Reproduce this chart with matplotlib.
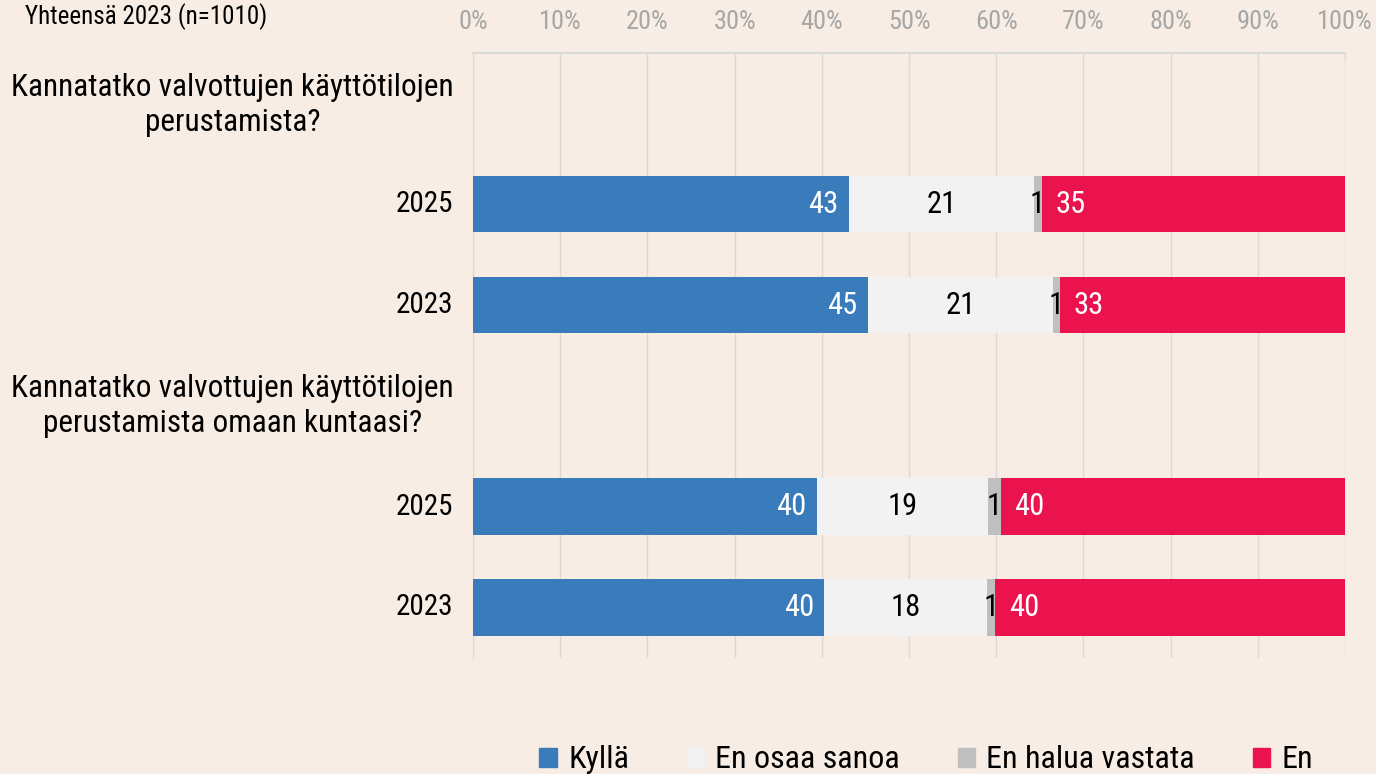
import numpy as np
import matplotlib
matplotlib.use('Agg')
import matplotlib.pyplot as plt
from matplotlib.patches import Patch
from matplotlib import font_manager

# pick a narrow font if one is installed
names = {f.name for f in font_manager.fontManager.ttflist}
narrow = {f.name for f in font_manager.fontManager.ttflist
          if f.stretch in ('condensed', 'semi-condensed', 'extra-condensed', 'ultra-condensed')
          or (isinstance(f.stretch, int) and f.stretch < 500)}
font = 'DejaVu Sans'
stretch = 'normal'
for cand in ['Roboto Condensed', 'Liberation Sans Narrow', 'Open Sans Condensed', 'Noto Sans Condensed', 'Arial Narrow']:
    if cand in names:
        font = cand
        break
else:
    for cand in ['Roboto', 'Noto Sans', 'Open Sans', 'Inter']:
        if cand in narrow:
            font = cand
            stretch = 'condensed'
            break
    else:
        font = 'Roboto'
plt.rcParams['font.family'] = [font, 'DejaVu Sans']
plt.rcParams['font.stretch'] = stretch

# data (percent, top to bottom)
rows = ['Kannatatko valvottujen käyttötilojen\nperustamista?', '2025', '2023',
        'Kannatatko valvottujen käyttötilojen\nperustamista omaan kuntaasi?', '2025', '2023']
is_header = [True, False, False, True, False, False]
series = ['Kyllä', 'En osaa sanoa', 'En halua vastata', 'En']
kylla = [0, 43.1, 45.3, 0, 39.4, 40.3]
eos = [0, 21.2, 21.2, 0, 19.7, 18.6]
ehv = [0, 0.9, 0.8, 0, 1.4, 1.0]
en = [0, 34.8, 32.7, 0, 39.5, 40.1]
labels_k = ['', '43', '45', '', '40', '40']
labels_eos = ['', '21', '21', '', '19', '18']
labels_ehv = ['', '1', '1', '', '1', '1']
labels_en = ['', '35', '33', '', '40', '40']

colors = ['#3A7BBB', '#F2F2F2', '#BFBFBF', '#EB134E']
txt_colors = ['white', 'black', 'black', 'white']
bg = '#F7EDE4'

fig = plt.figure(figsize=(13.76, 7.74), dpi=100, facecolor=bg)
ax = fig.add_axes([0.3437, 0.150, 0.9775 - 0.3437, 0.9315 - 0.150], facecolor=bg)

y = np.arange(len(rows))
left = np.zeros(len(rows))
for vals, labs, c, tc, name in zip([kylla, eos, ehv, en], [labels_k, labels_eos, labels_ehv, labels_en],
                                   colors, txt_colors, series):
    vals = np.array(vals)
    bars = ax.barh(y, vals, left=left, height=0.56, color=c, label=name, zorder=3)
    for i, b in enumerate(bars):
        if labs[i] == '':
            continue
        if name == 'Kyllä':
            ax.text(left[i] + vals[i] - 1.2, y[i], labs[i], ha='right', va='center',
                    color=tc, fontsize=22, zorder=4)
        elif name == 'En':
            ax.text(left[i] + 1.6, y[i], labs[i], ha='left', va='center',
                    color=tc, fontsize=22, zorder=4)
        else:
            ax.text(left[i] + vals[i] / 2, y[i], labs[i], ha='center', va='center',
                    color=tc, fontsize=22, zorder=4)
    left = left + vals

ax.set_xlim(0, 100)
ax.set_ylim(len(rows) - 0.5, -0.5)
ax.xaxis.tick_top()
ax.set_xticks(np.arange(0, 101, 10))
ax.set_xticklabels([f'{v}%' for v in range(0, 101, 10)], color='#A6A6A6', fontsize=19)
ax.tick_params(axis='x', direction='in', length=6, color='#D9D9D9', pad=14)
ax.grid(axis='x', color='#D9D9D9', linewidth=1, zorder=0)
ax.set_yticks([])
for s in ['right', 'bottom']:
    ax.spines[s].set_visible(False)
ax.spines['top'].set_color('#D9D9D9')
ax.spines['top'].set_linewidth(1.5)
ax.spines['left'].set_color('#D9D9D9')

for i, r in enumerate(rows):
    if is_header[i]:
        fig.text(0.169, 1 - (105 if i == 0 else 406) / 774, r, ha='center', va='center',
                 fontsize=22.5, multialignment='center', linespacing=1.25)
    else:
        ax.text(-2.3, y[i], r, ha='right', va='center', fontsize=21)

fig.text(0.018, 1 - 17 / 774, 'Yhteensä 2023 (n=1010)', ha='left', va='center', fontsize=18)

handles = [Patch(color=c) for c in colors]
fig.legend(handles, series, loc='center left', bbox_to_anchor=(0.392, 1 - 760 / 774), ncol=4,
           frameon=False, fontsize=23, handlelength=0.55, handleheight=0.55,
           handletextpad=0.35, columnspacing=1.8, borderpad=0, borderaxespad=0)

fig.savefig('out.png', dpi=100, facecolor=bg)
